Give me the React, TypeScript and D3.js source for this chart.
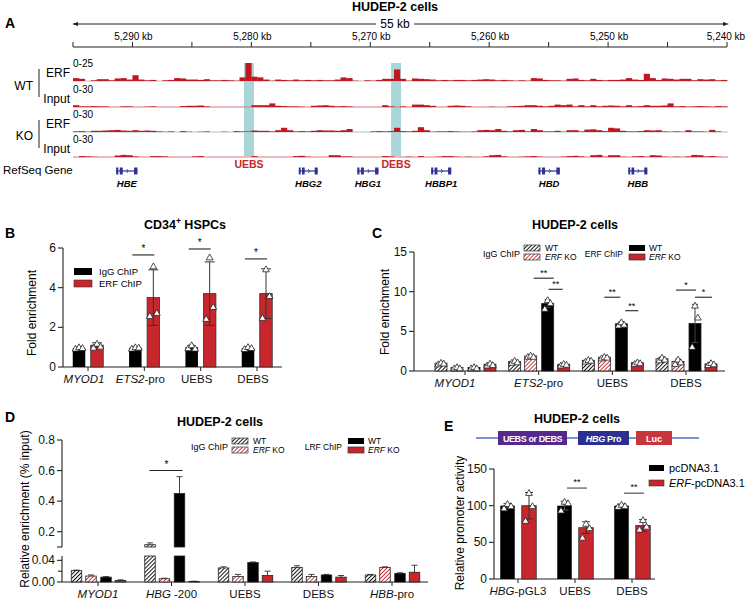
import React from "react";
import * as d3 from "d3";

const FONT = "'Liberation Sans', Arial, Helvetica, sans-serif";
const RED = "#c8262d";
const TRACK_RED = "#c0161f";
const DARK = "#222";

// ---------------- Panel A data ----------------
const regionKb = [5295, 5240];
const kbTicks = [5295, 5290, 5285, 5280, 5275, 5270, 5265, 5260, 5255, 5250, 5245, 5240];
const kbLabelTicks = [5290, 5280, 5270, 5260, 5250, 5240];
const binKb = 0.5;
const wtErf = [4, 3, 0, 1, 2.5, 2.5, 1, 3.5, 4, 2, 8, 2, 1, 1.5, 0, 1, 1.5, 4, 3.5, 2, 2, 1.5, 2.5, 1, 1, 1.5, 1, 0.5, 5, 25, 6, 5, 2, 0.5, 2, 1.5, 1, 2, 1, 1.5, 1, 1.5, 1, 1, 2, 5, 4, 0.5, 0, 1, 0.5, 1.5, 3, 3, 16, 3, 0.5, 3.5, 3, 2.5, 2, 1, 1.5, 1, 1.5, 1.5, 1, 1.5, 2, 2.5, 2, 1, 1.5, 1, 0.5, 1, 0.5, 4, 3.5, 1.5, 1, 1, 0.5, 3, 3.5, 1.5, 1, 3, 1.5, 1, 1.5, 1.5, 2, 4, 2, 1.5, 10, 4, 1.5, 3.5, 3, 2, 3, 3, 1, 2.5, 2, 2.5, 1, 1.5];
const wtInput = [3, 1, 1, 1.5, 1, 1, 0, 0, 1, 1, 0, 0, 0.5, 1, 0, 0, 0, 0, 1.5, 2, 2, 2.5, 1, 0, 0, 0, 0, 0, 0, 0, 3, 3, 3, 6, 2, 1.5, 1, 1, 0.5, 0, 2, 2.5, 3, 2, 1, 1.5, 1, 0, 0, 0, 0, 0, 3, 1, 0, 1, 0, 4, 4, 3, 2, 0, 0, 2, 2.5, 2, 1, 0, 0, 0, 0.5, 0, 0, 1, 1.5, 2, 3, 3, 2, 1, 2, 4, 3, 4, 1, 3, 1, 3, 1, 2, 2.5, 2, 1, 3, 1, 1.5, 3, 2, 2, 2.5, 6, 1, 1.5, 0.5, 1, 1.5, 1, 0.5, 1.5, 1];
const koErf = [1, 1.5, 0.5, 2, 2, 2.5, 3, 3.5, 2.5, 2, 3, 2, 2.5, 2, 1, 0.5, 1, 0, 1.5, 0.5, 0, 0.5, 1, 0, 0, 0.5, 0, 1.5, 1, 1, 2.5, 2, 2, 1, 3, 7, 3, 1, 1.5, 1, 2, 3, 2.5, 2.5, 2, 3, 5, 0, 0, 0, 1, 1.5, 1, 1.5, 7, 1.5, 1, 2, 8, 3, 0.5, 1, 1, 1.5, 1, 0.5, 0.5, 1, 3, 3.5, 3, 5, 2, 1, 3, 3.5, 1, 5, 3, 1, 1, 2, 0.5, 3, 3, 1, 4, 4.5, 3, 1.5, 7, 6, 2, 1, 1, 1.5, 3, 2.5, 3, 1, 0.5, 1, 0.5, 3, 1, 1, 0.5, 3.5, 1, 0];
const koInput = [0, 1.5, 1, 0.5, 0, 0, 0, 2.5, 3.5, 3, 1, 0, 0, 1.5, 1.5, 1, 0, 0, 0, 0, 1, 1.5, 0, 0, 0, 0, 0, 0, 0, 0, 1.5, 0, 0, 0, 0, 0, 0, 1.5, 2, 0.5, 0, 0, 0, 3, 3, 1, 1, 0, 0, 0, 0, 0, 1.5, 1, 0, 0, 0.5, 0, 1.5, 0, 0, 0.5, 1.5, 1.5, 0.5, 0, 0.5, 0, 0, 1, 3, 3.5, 1, 0, 0, 0.5, 1, 1.5, 0.5, 0, 0, 0, 0.5, 1.5, 2, 1, 0, 3, 3.5, 0.5, 3, 3, 0.5, 0, 1, 1.5, 0.5, 3, 2.5, 0.5, 0, 0.5, 0, 1, 3.5, 3, 1, 1.5, 0.5, 0];
const trackValues = [wtErf, wtInput, koErf, koInput];
const trackNames = ["ERF", "Input", "ERF", "Input"];
const trackMax = [25, 30, 30, 30];
const trackIsInput = [false, true, false, true];
const groupNames = ["WT", "KO"];
const geneNames = ["HBE", "HBG2", "HBG1", "HBBP1", "HBD", "HBB"];
const geneStartKb = [5291.37, 5276.01, 5271.09, 5264.88, 5255.86, 5248.3];
const geneEndKb = [5289.58, 5274.42, 5269.31, 5263.19, 5254.06, 5246.7];
const siteNames = ["UEBS", "DEBS"];
const siteStartKb = [5280.62, 5268.25];
const siteEndKb = [5279.78, 5267.41];

// ---------------- Panel B data ----------------
const bItal = ["MYOD1", "ETS2", "", ""];
const bRest = ["", "-pro", "UEBS", "DEBS"];
const bCats = ["MYOD1", "ETS2-pro", "UEBS", "DEBS"];
const bIgG = [0.95, 0.97, 1.0, 0.95];
const bIgGSd = [0.05, 0.05, 0.1, 0.06];
const bErf = [1.1, 3.5, 3.7, 3.7];
const bErfSd = [0.12, 1.4, 1.6, 1.25];
const bIgGPts = [[0.95, 1.02, 0.98], [0.95, 1.02, 1.0], [0.97, 1.12, 0.95], [0.93, 1.03, 0.98]];
const bErfPts = [[1.0, 1.2, 1.05], [2.6, 5.1, 2.75], [2.45, 5.55, 3.05], [2.5, 4.95, 3.6]];
const bSigCat = [1, 2, 3];
const bSigVal = [5.65, 5.95, 5.45];
const bYTicks = [0, 2, 4, 6];

// ---------------- Panel C data ----------------
const cItal = ["MYOD1", "ETS2", "", ""];
const cRest = ["", "-pro", "UEBS", "DEBS"];
const cCats = ["MYOD1", "ETS2-pro", "UEBS", "DEBS"];
const cIgWT = [1.0, 1.2, 1.35, 1.55];
const cIgWTSd = [0.1, 0.15, 0.1, 0.2];
const cIgKO = [0.45, 1.9, 1.75, 1.2];
const cIgKOSd = [0.1, 0.1, 0.1, 0.3];
const cErfWT = [0.45, 8.5, 5.95, 6.0];
const cErfWTSd = [0.1, 0.5, 0.25, 2.4];
const cErfKO = [0.85, 0.85, 1.05, 0.9];
const cErfKOSd = [0.1, 0.1, 0.1, 0.1];
const cIgWTPts = [[0.9, 1.1, 1.0], [1.1, 1.35, 1.15], [1.25, 1.45, 1.35], [1.4, 1.75, 1.5]];
const cIgKOPts = [[0.4, 0.55, 0.4], [1.85, 2.0, 1.85], [1.65, 1.85, 1.75], [0.95, 1.5, 1.15]];
const cErfWTPts = [[0.4, 0.55, 0.4], [7.9, 9.0, 8.6], [5.8, 6.2, 5.9], [3.1, 8.3, 6.8]];
const cErfKOPts = [[0.75, 1.0, 0.8], [0.75, 0.95, 0.85], [0.95, 1.15, 1.05], [0.8, 1.05, 0.9]];
const cSigCat = [1, 1, 2, 2, 3, 3];
const cSigFrom = [-5, 10, -8, 13, -10, 9];
const cSigTo = [15, 24, 8, 26, 10, 26];
const cSigVal = [11.7, 10.3, 9.3, 7.6, 10.2, 9.3];
const cSigLabel = ["**", "**", "**", "**", "*", "*"];
const cYTicks = [0, 5, 10, 15];

// ---------------- Panel D data ----------------
const dItal = ["MYOD1", "HBG", "", "", "HBB"];
const dRest = ["", " -200", "UEBS", "DEBS", "-pro"];
const dCats = ["MYOD1", "HBG -200", "UEBS", "DEBS", "HBB-pro"];
const dIgWT = [0.021, 0.115, 0.026, 0.027, 0.013];
const dIgWTSd = [0.001, 0.012, 0.002, 0.003, 0.001];
const dIgKO = [0.011, 0.006, 0.01, 0.01, 0.027];
const dIgKOSd = [0.002, 0.001, 0.004, 0.004, 0.001];
const dLrfWT = [0.009, 0.45, 0.036, 0.013, 0.016];
const dLrfWTSd = [0.001, 0.11, 0.001, 0.001, 0.001];
const dLrfKO = [0.003, 0.001, 0.012, 0.009, 0.018];
const dLrfKOSd = [0.001, 0.0005, 0.008, 0.003, 0.013];
const dTopTicks = [0.2, 0.4, 0.6, 0.8];
const dBotTicks = [0, 0.04];
const dBotMinor = [0.02];

// ---------------- Panel E data ----------------
const eItal = ["HBG", "", ""];
const eRest = ["-pGL3", "UEBS", "DEBS"];
const eCats = ["HBG-pGL3", "UEBS", "DEBS"];
const ePc = [100, 100, 100];
const ePcSd = [3, 6, 2];
const eErf = [100, 70, 73];
const eErfSd = [18, 8, 8];
const ePcPts = [[97, 103, 100], [94, 106, 104], [99, 102, 100]];
const eErfPts = [[80, 118, 100], [57, 76, 70], [68, 81, 72]];
const eSigCat = [1, 2];
const eSigVal = [124, 117];
const eYTicks = [0, 50, 100, 150];

const triPath = d3.symbol().type(d3.symbolTriangle).size(20)() as string;
const jitter = [-3.5, 0, 3.5];

function Tri({ x, y }: { x: number; y: number }) {
  return <path d={triPath} transform={`translate(${x},${y + 1})`} fill="white" stroke={DARK} strokeWidth={0.8} />;
}

function ErrBar({ x, y0, y1, cap, color = DARK }: { x: number; y0: number; y1: number; cap: number; color?: string }) {
  return (
    <g stroke={color} strokeWidth={1} fill="none">
      <line x1={x} x2={x} y1={y0} y2={y1} />
      <line x1={x - cap} x2={x + cap} y1={y1} y2={y1} />
      <line x1={x - cap} x2={x + cap} y1={y0} y2={y0} />
    </g>
  );
}

function CatLabel({ x, y, ital, rest, size = 11.5 }: { x: number; y: number; ital: string; rest: string; size?: number }) {
  return (
    <text x={x} y={y} textAnchor="middle" fontSize={size} fontFamily={FONT} fill="#111">
      {ital && <tspan fontStyle="italic">{ital}</tspan>}
      {rest && <tspan>{rest}</tspan>}
    </text>
  );
}

function YAxis({ x, scale, ticks, fmt, size = 12 }: { x: number; scale: any; ticks: number[]; fmt: (v: number) => string; size?: number }) {
  const r = scale.range();
  return (
    <g>
      <line x1={x} x2={x} y1={r[0]} y2={r[1]} stroke={DARK} strokeWidth={1.1} />
      {ticks.map((t, i) => (
        <g key={i}>
          <line x1={x - 5} x2={x} y1={scale(t)} y2={scale(t)} stroke={DARK} strokeWidth={1.1} />
          <text x={x - 7} y={scale(t) + 4} textAnchor="end" fontSize={size} fontFamily={FONT} fill="#111">
            {fmt(t)}
          </text>
        </g>
      ))}
    </g>
  );
}

function PanelA() {
  const x = d3.scaleLinear().domain(regionKb).range([73, 727]);
  const baselines = [81, 107, 132, 157];
  const trackH = 18;
  return (
    <g fontFamily={FONT}>
      <text x={5} y={28} fontSize={14} fontWeight="bold">A</text>
      <text x={395} y={11} fontSize={12.5} fontWeight="bold" textAnchor="middle">HUDEP-2 cells</text>
      <line x1={74} x2={376} y1={24} y2={24} stroke={DARK} strokeWidth={1} />
      <line x1={414} x2={726} y1={24} y2={24} stroke={DARK} strokeWidth={1} />
      <path d="M72,24 L78,22 L78,26 Z" fill={DARK} />
      <path d="M729,24 L723,22 L723,26 Z" fill={DARK} />
      <text x={395} y={28} fontSize={12} textAnchor="middle">55 kb</text>
      <line x1={x(regionKb[0])} x2={x(regionKb[1])} y1={47} y2={47} stroke={DARK} strokeWidth={1} />
      {kbTicks.map((k) => (
        <line key={k} x1={x(k)} x2={x(k)} y1={42} y2={47} stroke={DARK} strokeWidth={1} />
      ))}
      {kbLabelTicks.map((k) => (
        <text key={k} x={Math.min(x(k) + 1, 726)} y={40} fontSize={10} textAnchor="middle">
          {d3.format(",")(k)} kb
        </text>
      ))}
      {siteNames.map((s, i) => (
        <g key={s}>
          <rect x={x(siteStartKb[i])} width={x(siteEndKb[i]) - x(siteStartKb[i])} y={63} height={93} fill="#a9d6d8" />
          <text x={(x(siteStartKb[i]) + x(siteEndKb[i])) / 2} y={168} fontSize={10.5} fontWeight="bold" fill={RED} textAnchor="middle">
            {s}
          </text>
        </g>
      ))}
      {trackValues.map((vals, t) => {
        const y = d3.scaleLinear().domain([0, trackMax[t]]).range([baselines[t], baselines[t] - trackH]);
        return (
          <g key={t}>
            <text x={73} y={baselines[t] - 14} fontSize={10}>{`0-${trackMax[t]}`}</text>
            <text x={70} y={baselines[t] - 4} fontSize={12} textAnchor="end">{trackNames[t]}</text>
            <line x1={73} x2={728} y1={baselines[t]} y2={baselines[t]} stroke={trackIsInput[t] ? "#d77a7d" : "#bdbdbd"} strokeWidth={1.2} />
            {vals.map((v, i) => {
              if (v <= 0) return null;
              const k0 = regionKb[0] - i * binKb;
              const x0 = x(k0);
              const x1 = x(k0 - binKb);
              return <rect key={i} x={x0} width={x1 - x0 + 0.2} y={y(v)} height={baselines[t] - y(v)} fill={TRACK_RED} />;
            })}
          </g>
        );
      })}
      {groupNames.map((g, i) => (
        <g key={g}>
          <text x={33} y={90 + i * 50} fontSize={12} textAnchor="end">{g}</text>
          <line x1={39} x2={39} y1={69 + i * 51} y2={97 + i * 51} stroke={DARK} strokeWidth={1} />
        </g>
      ))}
      <text x={3} y={174} fontSize={11.5}>RefSeq Gene</text>
      {geneNames.map((g, i) => {
        const x0 = x(geneStartKb[i]);
        const x1 = x(geneEndKb[i]);
        const w = x1 - x0;
        const yc = 171;
        const blue = "#2e3192";
        return (
          <g key={g}>
            <line x1={x0} x2={x1} y1={yc} y2={yc} stroke={blue} strokeWidth={1.2} />
            <rect x={x0} width={w * 0.1} y={yc - 3.5} height={7} fill={blue} />
            <rect x={x0 + w * 0.17} width={w * 0.14} y={yc - 3.5} height={7} fill={blue} />
            <rect x={x0 + w * 0.84} width={w * 0.16} y={yc - 3.5} height={7} fill={blue} />
            <path d={`M${x0 + w * 0.5},${yc - 2} L${x0 + w * 0.56},${yc} L${x0 + w * 0.5},${yc + 2}`} stroke={blue} fill="none" strokeWidth={0.8} />
            <text x={(x0 + x1) / 2} y={187} fontSize={9.5} fontWeight="bold" fontStyle="italic" textAnchor="middle">
              {g}
            </text>
          </g>
        );
      })}
    </g>
  );
}

function PanelB() {
  const y = d3.scaleLinear().domain([0, 6]).range([367, 248]);
  const x = d3.scalePoint<string>().domain(bCats).range([88, 257]);
  const w = 12.5;
  const off = [-9, 9];
  return (
    <g fontFamily={FONT}>
      <text x={5} y={238} fontSize={14} fontWeight="bold">B</text>
      <text x={185} y={229} fontSize={12.5} fontWeight="bold" textAnchor="middle">
        CD34<tspan fontSize={8.5} dy={-5}>+</tspan>
        <tspan dy={5}> HSPCs</tspan>
      </text>
      <text transform="translate(36,313) rotate(-90)" fontSize={12} textAnchor="middle">Fold enrichment</text>
      <YAxis x={63} scale={y} ticks={bYTicks} fmt={(v) => String(v)} />
      <line x1={63} x2={282} y1={367} y2={367} stroke={DARK} strokeWidth={1.1} />
      {bCats.map((c, i) => {
        const cx = x(c) as number;
        return (
          <g key={c}>
            <line x1={cx} x2={cx} y1={367} y2={371} stroke={DARK} />
            <CatLabel x={cx - 4} y={383} ital={bItal[i]} rest={bRest[i]} size={11.5} />
            <rect x={cx + off[0] - w / 2} width={w} y={y(bIgG[i])} height={367 - y(bIgG[i])} fill="#000" />
            <rect x={cx + off[1] - w / 2} width={w} y={y(bErf[i])} height={367 - y(bErf[i])} fill={RED} stroke="#333" strokeWidth={0.8} />
            <ErrBar x={cx + off[0]} y0={y(bIgG[i] - bIgGSd[i])} y1={y(bIgG[i] + bIgGSd[i])} cap={3} />
            <ErrBar x={cx + off[1]} y0={y(bErf[i] - bErfSd[i])} y1={y(bErf[i] + bErfSd[i])} cap={5} color="#333" />
            {bIgGPts[i].map((p, j) => <Tri key={"a" + j} x={cx + off[0] + jitter[j]} y={y(p)} />)}
            {bErfPts[i].map((p, j) => <Tri key={"b" + j} x={cx + off[1] + jitter[j]} y={y(p)} />)}
          </g>
        );
      })}
      {bSigCat.map((ci, k) => {
        const cx = x(bCats[ci]) as number;
        return (
          <g key={k}>
            <line x1={cx - 12} x2={cx + 10} y1={y(bSigVal[k])} y2={y(bSigVal[k])} stroke={DARK} strokeWidth={1.1} />
            <text x={cx - 1} y={y(bSigVal[k]) - 3} fontSize={10} textAnchor="middle">*</text>
          </g>
        );
      })}
      <rect x={74} y={268} width={18} height={7} fill="#000" />
      <text x={99} y={275} fontSize={9.5}>IgG ChIP</text>
      <rect x={74} y={280} width={18} height={7} fill={RED} stroke="#333" strokeWidth={0.6} />
      <text x={99} y={287} fontSize={9.5}>ERF ChIP</text>
    </g>
  );
}

function Legend4({ x, y, leftTitle, rightTitle, rOff }: { x: number; y: number; leftTitle: string; rightTitle: string; rOff: number }) {
  return (
    <g fontFamily={FONT} fontSize={9}>
      <text x={x} y={y + 6} textAnchor="end">{leftTitle}</text>
      <rect x={x + 4} y={y - 6} width={16} height={6} fill="url(#hatchK)" stroke="#333" strokeWidth={0.7} />
      <text x={x + 25} y={y} fontSize={8.5}>WT</text>
      <rect x={x + 4} y={y + 3} width={16} height={6} fill="url(#hatchR)" stroke="#333" strokeWidth={0.7} />
      <text x={x + 25} y={y + 9} fontSize={8.5}><tspan fontStyle="italic">ERF</tspan> KO</text>
      <text x={x + rOff} y={y + 6} textAnchor="end" fontSize={8.5}>{rightTitle}</text>
      <rect x={x + rOff + 6} y={y - 6} width={16} height={6} fill="#000" />
      <text x={x + rOff + 26} y={y} fontSize={8.5}>WT</text>
      <rect x={x + rOff + 6} y={y + 3} width={16} height={6} fill={RED} stroke="#333" strokeWidth={0.7} />
      <text x={x + rOff + 26} y={y + 9} fontSize={8.5}><tspan fontStyle="italic">ERF</tspan> KO</text>
    </g>
  );
}

function PanelC() {
  const y = d3.scaleLinear().domain([0, 15]).range([371, 252]);
  const x = d3.scalePoint<string>().domain(cCats).range([465, 686]);
  const w = 12;
  const off = [-24, -8, 9, 25];
  const fills = ["url(#hatchK)", "url(#hatchR)", "#000", RED];
  const vals = [cIgWT, cIgKO, cErfWT, cErfKO];
  const sds = [cIgWTSd, cIgKOSd, cErfWTSd, cErfKOSd];
  const pts = [cIgWTPts, cIgKOPts, cErfWTPts, cErfKOPts];
  return (
    <g fontFamily={FONT}>
      <text x={372} y={238} fontSize={14} fontWeight="bold">C</text>
      <text x={575} y={229} fontSize={12.5} fontWeight="bold" textAnchor="middle">HUDEP-2 cells</text>
      <text transform="translate(389,312) rotate(-90)" fontSize={12} textAnchor="middle">Fold enrichment</text>
      <YAxis x={414} scale={y} ticks={cYTicks} fmt={(v) => String(v)} />
      <line x1={414} x2={725} y1={371} y2={371} stroke={DARK} strokeWidth={1.1} />
      <Legend4 x={520} y={251} leftTitle="IgG ChIP" rightTitle="ERF ChIP" rOff={103} />
      {cCats.map((c, i) => {
        const cx = x(c) as number;
        return (
          <g key={c}>
            <line x1={cx} x2={cx} y1={371} y2={375} stroke={DARK} />
            <CatLabel x={cx - (i === 0 ? 10 : 0)} y={387} ital={cItal[i]} rest={cRest[i]} size={11.5} />
            {vals.map((v, s) => (
              <g key={s}>
                <rect x={cx + off[s] - w / 2} width={w} y={y(v[i])} height={371 - y(v[i])} fill={fills[s]} stroke="#222" strokeWidth={0.8} />
                <ErrBar x={cx + off[s]} y0={y(v[i] - sds[s][i])} y1={y(v[i] + sds[s][i])} cap={3} color="#444" />
                {pts[s][i].map((p, j) => <Tri key={j} x={cx + off[s] + jitter[j] * 0.8} y={y(p)} />)}
              </g>
            ))}
          </g>
        );
      })}
      {cSigCat.map((ci, k) => {
        const cx = x(cCats[ci]) as number;
        const yy = y(cSigVal[k]);
        return (
          <g key={k}>
            <line x1={cx + cSigFrom[k]} x2={cx + cSigTo[k]} y1={yy} y2={yy} stroke={DARK} strokeWidth={1.1} />
            <text x={cx + (cSigFrom[k] + cSigTo[k]) / 2} y={yy - 2} fontSize={9} textAnchor="middle">{cSigLabel[k]}</text>
          </g>
        );
      })}
    </g>
  );
}

function PanelD() {
  const yTop = d3.scaleLinear().domain([0.1, 0.8]).range([547, 440]);
  const yBot = d3.scaleLinear().domain([0, 0.048]).range([582, 556]);
  const yy = (v: number) => (v <= 0.048 ? yBot(v) : yTop(v));
  const x = d3.scalePoint<string>().domain(dCats).range([98, 392]);
  const w = 10.5;
  const off = [-21.5, -7, 8, 22.5];
  const fills = ["url(#hatchK)", "url(#hatchR)", "#000", RED];
  const vals = [dIgWT, dIgKO, dLrfWT, dLrfKO];
  const sds = [dIgWTSd, dIgKOSd, dLrfWTSd, dLrfKOSd];
  const sigCx = x(dCats[1]) as number;
  return (
    <g fontFamily={FONT}>
      <text x={5} y={422} fontSize={14} fontWeight="bold">D</text>
      <text x={220} y={426} fontSize={12.5} fontWeight="bold" textAnchor="middle">HUDEP-2 cells</text>
      <text transform="translate(29,509) rotate(-90)" fontSize={12} textAnchor="middle">Relative enrichment (% input)</text>
      <YAxis x={62} scale={yTop} ticks={dTopTicks} fmt={(v) => d3.format(".1f")(v)} />
      <line x1={57} x2={62} y1={547} y2={547} stroke={DARK} strokeWidth={1.1} />
      <YAxis x={62} scale={yBot} ticks={dBotTicks} fmt={(v) => d3.format(".2f")(v)} />
      {dBotMinor.map((t) => (
        <line key={t} x1={58} x2={62} y1={yBot(t)} y2={yBot(t)} stroke={DARK} strokeWidth={1.1} />
      ))}
      <line x1={62} x2={428} y1={582} y2={582} stroke={DARK} strokeWidth={1.1} />
      <Legend4 x={228} y={444} leftTitle="IgG ChIP" rightTitle="LRF ChIP" rOff={114} />
      {dCats.map((c, i) => {
        const cx = x(c) as number;
        return (
          <g key={c}>
            <line x1={cx} x2={cx} y1={582} y2={586} stroke={DARK} />
            <CatLabel x={cx} y={598} ital={dItal[i]} rest={dRest[i]} size={11.5} />
            {vals.map((v, s) => {
              const val = v[i];
              const bx = cx + off[s] - w / 2;
              const top = val + sds[s][i];
              return (
                <g key={s}>
                  <line x1={cx + off[s]} x2={cx + off[s]} y1={yy(val)} y2={yy(top)} stroke="#444" />
                  <line x1={cx + off[s] - 3} x2={cx + off[s] + 3} y1={yy(top)} y2={yy(top)} stroke="#444" />
                  {val <= 0.048 ? (
                    <rect x={bx} width={w} y={yBot(val)} height={582 - yBot(val)} fill={fills[s]} stroke="#222" strokeWidth={0.8} />
                  ) : (
                    <g>
                      <rect x={bx} width={w} y={yBot(0.048)} height={582 - yBot(0.048)} fill={fills[s]} stroke="#222" strokeWidth={0.8} />
                      <rect x={bx} width={w} y={yTop(val)} height={547 - yTop(val)} fill={fills[s]} stroke="#222" strokeWidth={0.8} />
                    </g>
                  )}
                </g>
              );
            })}
          </g>
        );
      })}
      <line x1={sigCx - 22} x2={sigCx + 11} y1={yTop(0.6)} y2={yTop(0.6)} stroke={DARK} strokeWidth={1.1} />
      <text x={sigCx - 5} y={yTop(0.6) - 3} fontSize={10} textAnchor="middle">*</text>
    </g>
  );
}

function PanelE() {
  const y = d3.scaleLinear().domain([0, 150]).range([579, 469]);
  const x = d3.scalePoint<string>().domain(eCats).range([518, 632]);
  const w = 14.5;
  const off = [-10.5, 11];
  return (
    <g fontFamily={FONT}>
      <text x={444} y={431} fontSize={14} fontWeight="bold">E</text>
      <text x={577} y={423} fontSize={12.5} fontWeight="bold" textAnchor="middle">HUDEP-2 cells</text>
      <line x1={476} x2={699} y1={438} y2={438} stroke="#4a72c4" strokeWidth={1.6} />
      <rect x={498} y={431} width={69} height={14} fill="#55298b" />
      <text x={532.5} y={441.5} fontSize={9} fontWeight="bold" fill="white" textAnchor="middle" letterSpacing={-0.4}>UEBS or DEBS</text>
      <rect x={578} y={431} width={51} height={14} fill="#2b2f8f" />
      <text x={603.5} y={441.5} fontSize={9} fontWeight="bold" fill="white" textAnchor="middle" letterSpacing={-0.3}>
        <tspan fontStyle="italic">HBG</tspan> Pro
      </text>
      <rect x={636} y={431} width={36} height={14} fill="#c8363b" />
      <text x={654} y={441.5} fontSize={9} fontWeight="bold" fill="white" textAnchor="middle">Luc</text>
      <text transform="translate(464,523) rotate(-90)" fontSize={12} textAnchor="middle">Relative promoter activity</text>
      <YAxis x={494} scale={y} ticks={eYTicks} fmt={(v) => String(v)} />
      <line x1={494} x2={655} y1={579} y2={579} stroke={DARK} strokeWidth={1.1} />
      {eCats.map((c, i) => {
        const cx = x(c) as number;
        return (
          <g key={c}>
            <line x1={cx} x2={cx} y1={579} y2={583} stroke={DARK} />
            <CatLabel x={cx} y={595} ital={eItal[i]} rest={eRest[i]} size={11.5} />
            <rect x={cx + off[0] - w / 2} width={w} y={y(ePc[i])} height={579 - y(ePc[i])} fill="#000" />
            <rect x={cx + off[1] - w / 2} width={w} y={y(eErf[i])} height={579 - y(eErf[i])} fill={RED} stroke="#333" strokeWidth={0.8} />
            <ErrBar x={cx + off[0]} y0={y(ePc[i] - ePcSd[i])} y1={y(ePc[i] + ePcSd[i])} cap={4} color="#555" />
            <ErrBar x={cx + off[1]} y0={y(eErf[i] - eErfSd[i])} y1={y(eErf[i] + eErfSd[i])} cap={4} color="#333" />
            {ePcPts[i].map((p, j) => <Tri key={"a" + j} x={cx + off[0] + jitter[j]} y={y(p)} />)}
            {eErfPts[i].map((p, j) => <Tri key={"b" + j} x={cx + off[1] + jitter[j]} y={y(p)} />)}
          </g>
        );
      })}
      {eSigCat.map((ci, k) => {
        const cx = x(eCats[ci]) as number;
        const yy = y(eSigVal[k]);
        return (
          <g key={k}>
            <line x1={cx - 8} x2={cx + 12} y1={yy} y2={yy} stroke="#555" strokeWidth={1.2} />
            <text x={cx + 2} y={yy - 3} fontSize={9} textAnchor="middle">**</text>
          </g>
        );
      })}
      <rect x={649} y={465} width={15} height={6} fill="#000" />
      <text x={669} y={472} fontSize={11}>pcDNA3.1</text>
      <rect x={649} y={480} width={15} height={6} fill={RED} stroke="#333" strokeWidth={0.6} />
      <text x={669} y={487} fontSize={11}><tspan fontStyle="italic">ERF</tspan>-pcDNA3.1</text>
    </g>
  );
}

export default function App() {
  return (
    <svg width={747} height={602} style={{ position: "absolute", left: 0, top: 0, background: "white" }}>
      <defs>
        <pattern id="hatchK" width="2.8" height="2.8" patternUnits="userSpaceOnUse" patternTransform="rotate(45)">
          <rect width="2.8" height="2.8" fill="white" />
          <line x1="0" y1="0" x2="0" y2="2.8" stroke="#111" strokeWidth="2" />
        </pattern>
        <pattern id="hatchR" width="2.8" height="2.8" patternUnits="userSpaceOnUse" patternTransform="rotate(45)">
          <rect width="2.8" height="2.8" fill="white" />
          <line x1="0" y1="0" x2="0" y2="2.8" stroke={RED} strokeWidth="1.8" />
        </pattern>
      </defs>
      <rect width={747} height={602} fill="white" />
      <PanelA />
      <PanelB />
      <PanelC />
      <PanelD />
      <PanelE />
    </svg>
  );
}
